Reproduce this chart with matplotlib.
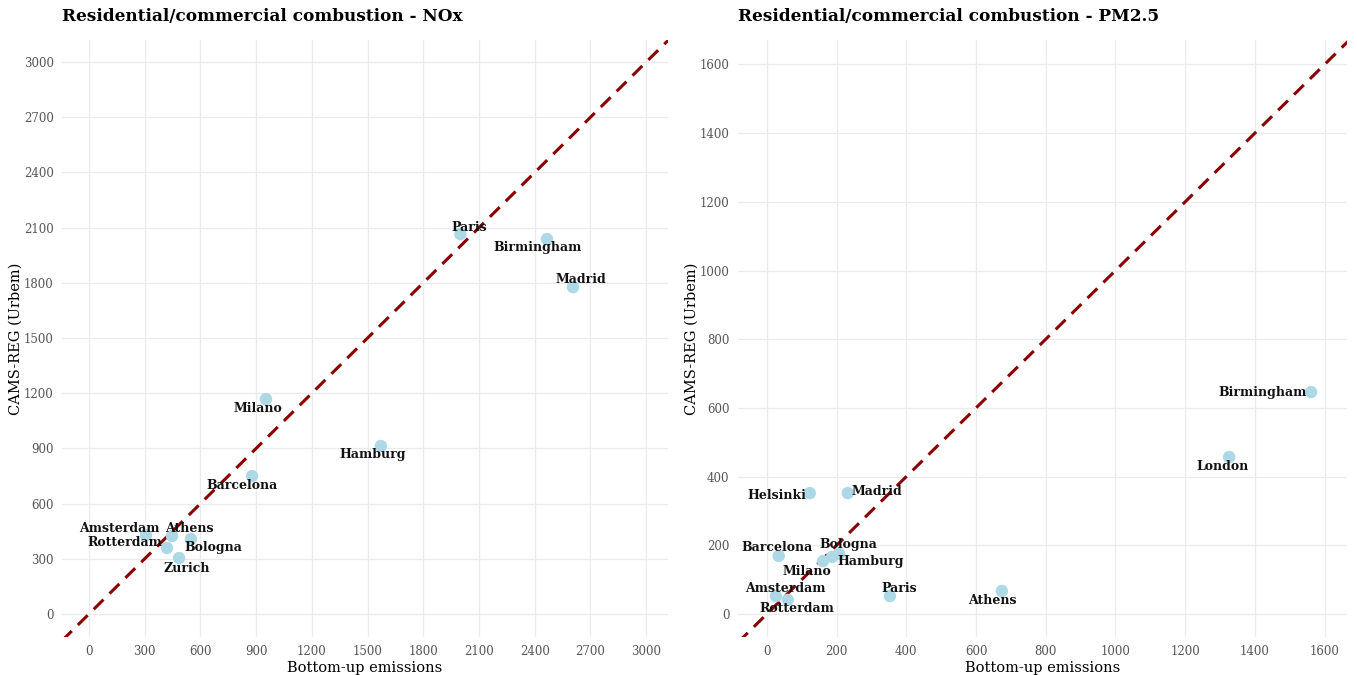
import matplotlib.pyplot as plt

plt.rcParams['font.family'] = ['DejaVu Serif', 'Liberation Serif']

# NOx, residential/commercial combustion
nox_cities = ['Paris', 'Birmingham', 'Madrid', 'Hamburg', 'Milano', 'Barcelona',
              'Amsterdam', 'Athens', 'Bologna', 'Rotterdam', 'Zurich']
nox_bottom_up = [2000, 2466, 2606, 1572, 953, 878, 307, 447, 549, 420, 485]
nox_cams = [2065, 2038, 1777, 913, 1168, 750, 429, 424, 408, 359, 304]

# PM2.5, residential/commercial combustion
pm_cities = ['Birmingham', 'London', 'Athens', 'Paris', 'Helsinki', 'Madrid',
             'Barcelona', 'Bologna', 'Hamburg', 'Milano', 'Amsterdam', 'Rotterdam']
pm_bottom_up = [1561, 1326, 674, 353, 123, 232, 34, 207, 187, 161, 26, 60]
pm_cams = [646, 457, 67, 52, 352, 352, 169, 175, 166, 154, 52, 41]

nox_ticks = [0, 300, 600, 900, 1200, 1500, 1800, 2100, 2400, 2700, 3000]
pm_ticks = [0, 200, 400, 600, 800, 1000, 1200, 1400, 1600]

# label offsets (pixels) so names don't sit on top of the points
nox_offsets = {
    'Paris': (9, 7), 'Birmingham': (-9, -8), 'Madrid': (8, 8),
    'Hamburg': (-8, -8), 'Milano': (-8, -9), 'Barcelona': (-10, -9),
    'Amsterdam': (-27, 7), 'Athens': (17, 8), 'Bologna': (22, -9),
    'Rotterdam': (-42, 5), 'Zurich': (8, -10),
}
pm_offsets = {
    'Birmingham': (-48, 0), 'London': (-7, -9), 'Athens': (-9, -10),
    'Paris': (9, 8), 'Helsinki': (-33, -2), 'Madrid': (29, 2),
    'Barcelona': (-2, 8), 'Bologna': (9, 9), 'Hamburg': (39, -5),
    'Milano': (-16, -10), 'Amsterdam': (9, 8), 'Rotterdam': (9, -9),
}


def draw_panel(ax, x, y, names, offsets, ticks, xlim, ylim, title):
    ax.set_xlim(xlim)
    ax.set_ylim(ylim)
    lo = min(xlim[0], ylim[0])
    hi = max(xlim[1], ylim[1])
    ax.plot([lo, hi], [lo, hi], color='#8b0000', lw=2.2,
            dashes=(4.5, 2.8), zorder=2)
    ax.scatter(x, y, s=80, color='#add8e6', edgecolors='none', zorder=3)
    for xi, yi, name in zip(x, y, names):
        dx, dy = offsets[name]
        ax.annotate(name, (xi, yi), xytext=(dx * 0.72, dy * 0.72),
                    textcoords='offset points', ha='center', va='center',
                    fontsize=9, fontweight='bold', color='#111111', zorder=4)
    ax.set_xticks(ticks)
    ax.set_yticks(ticks)
    ax.grid(True, color='#ebebeb', lw=0.9)
    ax.set_axisbelow(True)
    for s in ax.spines.values():
        s.set_visible(False)
    ax.tick_params(length=0, labelsize=8.5, labelcolor='#555555', pad=6)
    ax.set_xlabel('Bottom-up emissions', fontsize=10.5, labelpad=2)
    ax.set_ylabel('CAMS-REG (Urbem)', fontsize=10.5, labelpad=1)
    ax.set_title(title, loc='left', fontsize=12.2, fontweight='bold', pad=14)


fig = plt.figure(figsize=(13.57, 6.75), dpi=100)
ax1 = fig.add_axes([0.0457, 0.0563, 0.4466, 0.8844])
ax2 = fig.add_axes([0.5438, 0.0563, 0.4488, 0.8844])

draw_panel(ax1, nox_bottom_up, nox_cams, nox_cities, nox_offsets, nox_ticks,
           (-145, 3118), (-125, 3120), 'Residential/commercial combustion - NOx')
draw_panel(ax2, pm_bottom_up, pm_cams, pm_cities, pm_offsets, pm_ticks,
           (-83, 1664), (-67, 1671), 'Residential/commercial combustion - PM2.5')

fig.savefig('out.png', dpi=100)
